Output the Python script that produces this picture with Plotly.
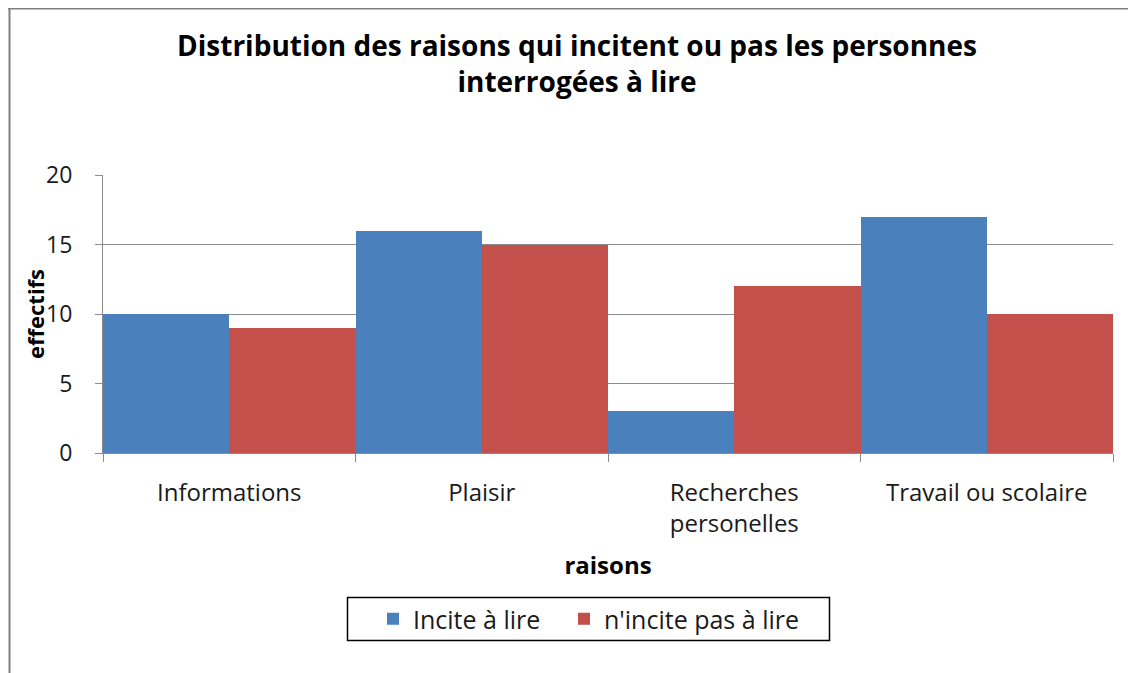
import plotly.graph_objects as go

categories = ["Informations", "Plaisir", "Recherches<br>personelles", "Travail ou scolaire"]
incite = [10, 16, 3, 17]
n_incite = [9, 15, 12, 10]
series_names = ["Incite à lire", "n'incite pas à lire"]
colors = ["#4A81BD", "#C3504B"]

FONT = "Open Sans"
W, H = 1128, 665          # page body has an 8px margin
L, T, PW, PH = 95, 167, 1010, 278

fig = go.Figure()
fig.add_trace(go.Bar(x=categories, y=incite, name=series_names[0], legend="legend",
                     marker=dict(color=colors[0], line=dict(width=0))))
fig.add_trace(go.Bar(x=categories, y=n_incite, name=series_names[1], legend="legend2",
                     marker=dict(color=colors[1], line=dict(width=0))))

px = lambda fx: (fx - L) / PW
py = lambda fy: (T + PH - fy) / PH

legend_common = dict(orientation="h", xanchor="left", y=py(588), yanchor="top",
                     borderwidth=0, bgcolor="rgba(0,0,0,0)",
                     font=dict(family=FONT, size=25, color="#1a1a1a"))

fig.update_layout(
    width=W, height=H,
    margin=dict(l=L, r=W - L - PW, t=T, b=H - T - PH, pad=0),
    paper_bgcolor="white", plot_bgcolor="white",
    barmode="group", bargap=0, bargroupgap=0,
    font=dict(family=FONT, color="#1a1a1a", size=22),
    title=dict(text="<b>Distribution des raisons qui incitent ou pas les personnes<br>interrogées à lire</b>",
               x=569 / W, xanchor="center", y=1 - 48 / H, yanchor="top",
               font=dict(family=FONT, size=28, color="#000000")),
    showlegend=True,
    legend=dict(x=px(365), **legend_common),
    legend2=dict(x=px(556), **legend_common),
    annotations=[
        dict(text="<b>effectifs</b>", textangle=-90, xref="paper", yref="paper",
             x=px(27), y=py(306), xanchor="center", yanchor="middle", showarrow=False,
             font=dict(family=FONT, size=22, color="#000000")),
    ],
    shapes=[
        dict(type="line", xref="paper", yref="paper",
             x0=px(0), x1=px(W + 10), y0=py(0.5), y1=py(0.5),
             line=dict(color="#808080", width=2)),
        dict(type="line", xref="paper", yref="paper",
             x0=px(1.5), x1=px(1.5), y0=py(0), y1=py(H + 10),
             line=dict(color="#808080", width=2)),
        dict(type="rect", xref="paper", yref="paper",
             x0=px(339.5), x1=px(821.5), y0=py(589.5), y1=py(632.5),
             line=dict(color="#000000", width=1.5), fillcolor="rgba(0,0,0,0)", layer="below"),
    ],
)

fig.update_xaxes(
    showline=True, linecolor="#8C8C8C", linewidth=1,
    ticks="outside", tickson="boundaries", ticklen=8, tickcolor="#8C8C8C",
    ticklabelstandoff=18,
    tickfont=dict(family=FONT, size=24, color="#1a1a1a"),
    title=dict(text="<b>raisons</b>", font=dict(family=FONT, size=24, color="#000000"), standoff=19),
    showgrid=False,
)
fig.update_yaxes(
    range=[0, 20], tickvals=[0, 5, 10, 15, 20],
    showline=True, linecolor="#8C8C8C", linewidth=1,
    ticks="outside", ticklen=7, tickcolor="#8C8C8C",
    ticklabelstandoff=18,
    showgrid=True, gridcolor="#8C8C8C", gridwidth=1,
    zeroline=False,
    tickfont=dict(family=FONT, size=23, color="#1a1a1a"),
)

fig.write_html("out.html")
